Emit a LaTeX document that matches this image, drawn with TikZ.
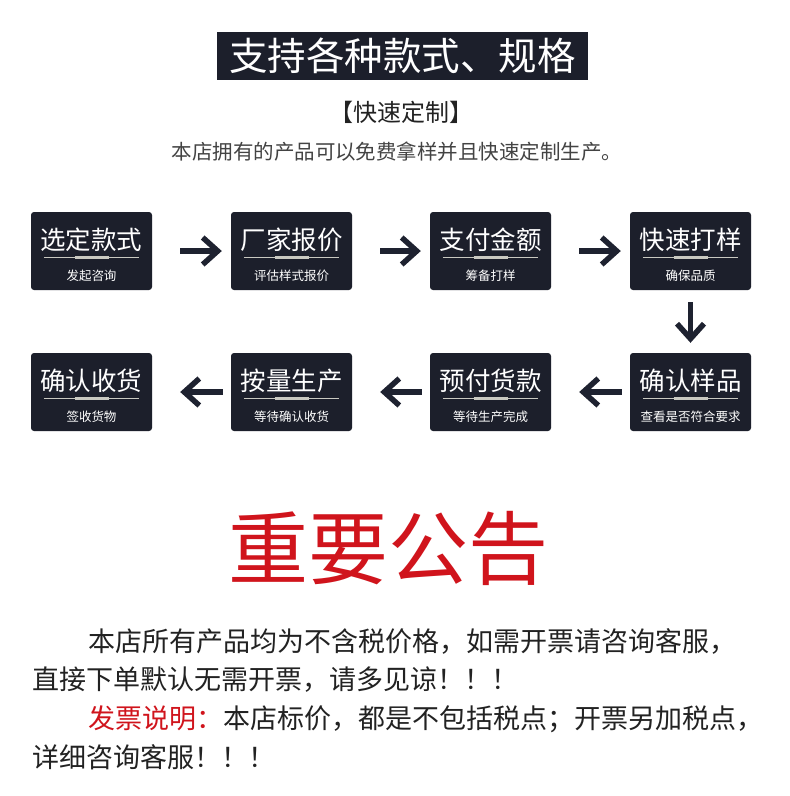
\documentclass[tikz,border=0pt]{standalone}
\usepackage{fontspec}
\setmainfont{Noto Sans CJK SC}
\usepackage{tikz}
\usetikzlibrary{arrows.meta,positioning,calc}
\usepackage{xcolor}
\definecolor{cardnavy}{HTML}{1C1F2B}
\definecolor{arrowdark}{HTML}{1E2230}
\definecolor{sepgray}{HTML}{C9C9C1}
\definecolor{noticered}{HTML}{D0141C}
\definecolor{bodygray}{HTML}{222222}

% one process card: name, x, y, title, note
\newcommand{\stepcard}[5]{%
  \node[card] (#1) at (#2,#3) {};
  \node[cardtitle] (#1t) at ($(#1.north)+(0,28)$) {#4};
  \draw[septhin] ($(#1.west)+(13,6)$) -- ($(#1.east)+(-13,6)$);
  \draw[septhick] ($(#1.center)+(-17,6)$) -- ($(#1.center)+(17,6)$);
  \node[cardnote] (#1n) at ($(#1.north)+(0,64)$) {#5};
}

\begin{document}
\begin{tikzpicture}[x=1pt, y=-1pt,
    card/.style={fill=cardnavy, rounded corners=3pt, minimum width=121pt, minimum height=78pt, inner sep=0pt},
    cardtitle/.style={text=white, font=\fontsize{25.5}{27}\selectfont, inner sep=0pt},
    cardnote/.style={text=white, font=\fontsize{12.5}{14}\selectfont, inner sep=0pt},
    septhin/.style={sepgray, line width=0.8pt},
    septhick/.style={sepgray, line width=3pt},
    flow/.style={arrowdark, line width=5.5pt, -{Straight Barb[length=15pt, width=27pt]}},
    bodyline/.style={anchor=west, text=bodygray, font=\fontsize{27}{30}\selectfont, inner sep=0pt}]
    \useasboundingbox[fill=white] (0,0) rectangle (790,796);

    % Header
    \node[fill=cardnavy, minimum width=371pt, minimum height=48pt, inner sep=0pt, text=white,
          font=\fontsize{38.5}{40}\selectfont] (head) at (402.5,56) {支持各种款式、规格};
    \node[font=\fontsize{24}{26}\selectfont, text=bodygray, inner sep=0pt] (tag) at (401,112) {【快速定制】};
    \node[font=\fontsize{20.5}{22}\selectfont, text=bodygray!85, inner sep=0pt] (intro) at (397,152) {本店拥有的产品可以免费拿样并且快速定制生产。};

    % Row 1
    \stepcard{s1}{91.5}{251}{选定款式}{发起咨询}
    \stepcard{s2}{291.5}{251}{厂家报价}{评估样式报价}
    \stepcard{s3}{490.5}{251}{支付金额}{筹备打样}
    \stepcard{s4}{690.5}{251}{快速打样}{确保品质}

    % Row 2
    \stepcard{s5}{690.5}{392}{确认样品}{查看是否符合要求}
    \stepcard{s6}{490.5}{392}{预付货款}{等待生产完成}
    \stepcard{s7}{291.5}{392}{按量生产}{等待确认收货}
    \stepcard{s8}{91.5}{392}{确认收货}{签收货物}

    % Arrows
    \draw[flow, shorten <=28pt, shorten >=9pt] (s1.east) -- (s2.west);
    \draw[flow, shorten <=28pt, shorten >=9pt] (s2.east) -- (s3.west);
    \draw[flow, shorten <=28pt, shorten >=9pt] (s3.east) -- (s4.west);
    \draw[flow, shorten <=12pt, shorten >=10pt] (s4.south) -- (s5.north);
    \draw[flow, shorten <=8pt, shorten >=28pt] (s5.west) -- (s6.east);
    \draw[flow, shorten <=8pt, shorten >=28pt] (s6.west) -- (s7.east);
    \draw[flow, shorten <=8pt, shorten >=28pt] (s7.west) -- (s8.east);

    % Notice
    \node[text=noticered, font=\fontsize{80}{84}\selectfont, inner sep=0pt] (notice) at (388,548) {重要公告};
    \node[bodyline] (p1) at (88,641) {本店所有产品均为不含税价格，如需开票请咨询客服，};
    \node[bodyline] (p2) at (32,680) {直接下单默认无需开票，请多见谅！！！};
    \node[bodyline] (p3) at (88,719) {{\color{noticered}发票说明：}本店标价，都是不包括税点；开票另加税点，};
    \node[bodyline] (p4) at (32,757) {详细咨询客服！！！};
\end{tikzpicture}
\end{document}
